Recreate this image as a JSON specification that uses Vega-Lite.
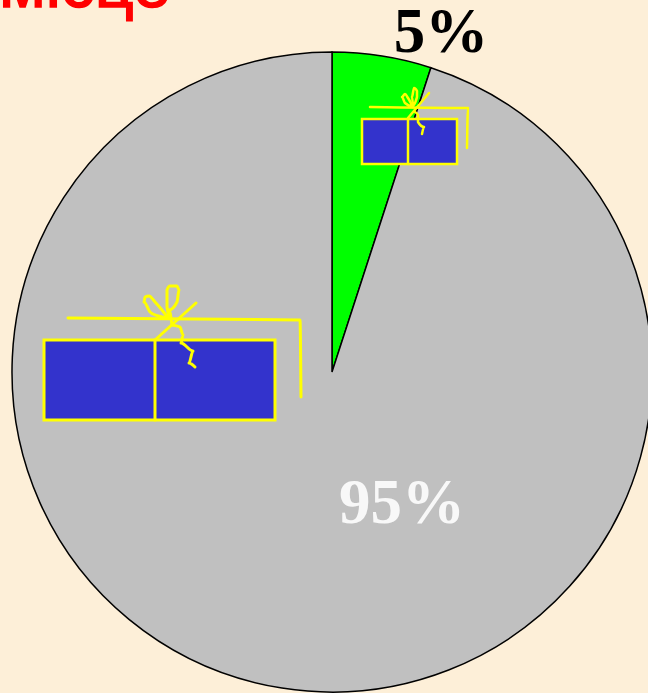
{"$schema":"https://vega.github.io/schema/vega-lite/v6.json","width":648,"height":693,"padding":0,"autosize":{"type":"none"},"background":"#fdefd8","config":{"view":{"stroke":null}},
"resolve":{"scale":{"color":"independent"}},
"datasets":{"pie":[{"share":"a","value":5},{"share":"b","value":95}],
"boxes":[{"gift":"big","x":44,"x2":275,"y":340,"y2":420},{"gift":"small","x":362,"x2":457,"y":119,"y2":164}],
"lines":[
{"gift":"big","part":"divider","i":1,"x":155,"y":340},{"gift":"big","part":"divider","i":2,"x":155,"y":420},
{"gift":"big","part":"ribbon","i":1,"x":68,"y":318},{"gift":"big","part":"ribbon","i":2,"x":300,"y":320},{"gift":"big","part":"ribbon","i":3,"x":301,"y":397},
{"gift":"big","part":"diag","i":1,"x":155,"y":340},{"gift":"big","part":"diag","i":2,"x":196,"y":303},
{"gift":"big","part":"loopL","i":1,"x":168,"y":318},{"gift":"big","part":"loopL","i":2,"x":158,"y":316},{"gift":"big","part":"loopL","i":3,"x":150,"y":312},{"gift":"big","part":"loopL","i":4,"x":144,"y":302},{"gift":"big","part":"loopL","i":5,"x":145,"y":297},{"gift":"big","part":"loopL","i":6,"x":149,"y":296},{"gift":"big","part":"loopL","i":7,"x":155,"y":302},{"gift":"big","part":"loopL","i":8,"x":162,"y":310},{"gift":"big","part":"loopL","i":9,"x":168,"y":318},
{"gift":"big","part":"loopR","i":1,"x":170,"y":318},{"gift":"big","part":"loopR","i":2,"x":167,"y":307},{"gift":"big","part":"loopR","i":3,"x":167,"y":290},{"gift":"big","part":"loopR","i":4,"x":170,"y":286},{"gift":"big","part":"loopR","i":5,"x":177,"y":286},{"gift":"big","part":"loopR","i":6,"x":179,"y":290},{"gift":"big","part":"loopR","i":7,"x":177,"y":302},{"gift":"big","part":"loopR","i":8,"x":169,"y":310},{"gift":"big","part":"loopR","i":9,"x":172,"y":325},
{"gift":"big","part":"tail","i":1,"x":172,"y":325},{"gift":"big","part":"tail","i":2,"x":180,"y":327},{"gift":"big","part":"tail","i":3,"x":183,"y":335},{"gift":"big","part":"tail","i":4,"x":181,"y":343},{"gift":"big","part":"tail","i":5,"x":193,"y":351},{"gift":"big","part":"tail","i":6,"x":189,"y":363},{"gift":"big","part":"tail","i":7,"x":195,"y":367},
{"gift":"small","part":"divider","i":1,"x":408,"y":119},{"gift":"small","part":"divider","i":2,"x":408,"y":164},
{"gift":"small","part":"ribbon","i":1,"x":370,"y":107},{"gift":"small","part":"ribbon","i":2,"x":468,"y":108},{"gift":"small","part":"ribbon","i":3,"x":467,"y":148},
{"gift":"small","part":"diag","i":1,"x":408,"y":118},{"gift":"small","part":"diag","i":2,"x":429,"y":93},
{"gift":"small","part":"loopL","i":1,"x":413,"y":107},{"gift":"small","part":"loopL","i":2,"x":405,"y":103},{"gift":"small","part":"loopL","i":3,"x":402,"y":97},{"gift":"small","part":"loopL","i":4,"x":405,"y":94},{"gift":"small","part":"loopL","i":5,"x":408,"y":98},{"gift":"small","part":"loopL","i":6,"x":413,"y":107},
{"gift":"small","part":"loopR","i":1,"x":413,"y":106},{"gift":"small","part":"loopR","i":2,"x":412,"y":97},{"gift":"small","part":"loopR","i":3,"x":414,"y":88},{"gift":"small","part":"loopR","i":4,"x":417,"y":91},{"gift":"small","part":"loopR","i":5,"x":417,"y":97},{"gift":"small","part":"loopR","i":6,"x":413,"y":106},
{"gift":"small","part":"tail","i":1,"x":415,"y":112},{"gift":"small","part":"tail","i":2,"x":418,"y":115},{"gift":"small","part":"tail","i":3,"x":418,"y":122},{"gift":"small","part":"tail","i":4,"x":424,"y":127},{"gift":"small","part":"tail","i":5,"x":422,"y":134}
],
"labels":[{"t":"5%","x":441,"y":52},{"t":"95%","x":402,"y":523}]},
"layer":[
{"data":{"name":"pie"},"mark":{"type":"arc","radius":320,"stroke":"#000000","strokeWidth":1.5},
"encoding":{"theta":{"field":"value","type":"quantitative","stack":true,"scale":{"domain":[0,100],"range":[0,6.283185]}},"order":{"field":"share"},
"color":{"field":"share","type":"nominal","legend":null,"scale":{"domain":["a","b"],"range":["#00ff00","#c0c0c0"]}},
"x":{"datum":332,"type":"quantitative","axis":null,"scale":{"domain":[0,648],"nice":false,"zero":false}},
"y":{"datum":372,"type":"quantitative","axis":null,"scale":{"domain":[693,0],"nice":false,"zero":false}}}},
{"data":{"name":"boxes"},"mark":{"type":"rect","fill":"#3333cc","stroke":"#ffff00"},
"encoding":{"x":{"field":"x","type":"quantitative","axis":null,"scale":{"domain":[0,648],"nice":false,"zero":false}},"x2":{"field":"x2"},
"y":{"field":"y","type":"quantitative","axis":null,"scale":{"domain":[693,0],"nice":false,"zero":false}},"y2":{"field":"y2"},
"strokeWidth":{"field":"gift","type":"nominal","legend":null,"scale":{"domain":["big","small"],"range":[3,2.5]}}}},
{"data":{"name":"lines"},"mark":{"type":"line","color":"#ffff00","strokeJoin":"round","strokeCap":"round","interpolate":"monotone"},
"encoding":{"x":{"field":"x","type":"quantitative","axis":null,"scale":{"domain":[0,648],"nice":false,"zero":false}},
"y":{"field":"y","type":"quantitative","axis":null,"scale":{"domain":[693,0],"nice":false,"zero":false}},
"order":{"field":"i"},"detail":[{"field":"gift"},{"field":"part"}],
"strokeWidth":{"field":"gift","type":"nominal","legend":null,"scale":{"domain":["big","small"],"range":[3,2.5]}}}},
{"data":{"name":"labels"},"mark":{"type":"text","font":"Liberation Serif","fontWeight":"bold","fontSize":63,"align":"center","baseline":"alphabetic"},
"encoding":{"text":{"field":"t"},"x":{"field":"x","type":"quantitative","axis":null,"scale":{"domain":[0,648],"nice":false,"zero":false}},
"y":{"field":"y","type":"quantitative","axis":null,"scale":{"domain":[693,0],"nice":false,"zero":false}},
"color":{"field":"t","type":"nominal","legend":null,"scale":{"domain":["5%","95%"],"range":["#000000","#f8f8f8"]}}}},
{"data":{"values":[{"t":"місце","x":-1,"y":7}]},"mark":{"type":"text","font":"Liberation Sans","fontSize":68,"align":"left","baseline":"alphabetic","color":"#ff0000","stroke":"#ff0000","strokeWidth":1.5},
"encoding":{"text":{"field":"t"},"x":{"field":"x","type":"quantitative","axis":null,"scale":{"domain":[0,648],"nice":false,"zero":false}},
"y":{"field":"y","type":"quantitative","axis":null,"scale":{"domain":[693,0],"nice":false,"zero":false}}}}
]}
